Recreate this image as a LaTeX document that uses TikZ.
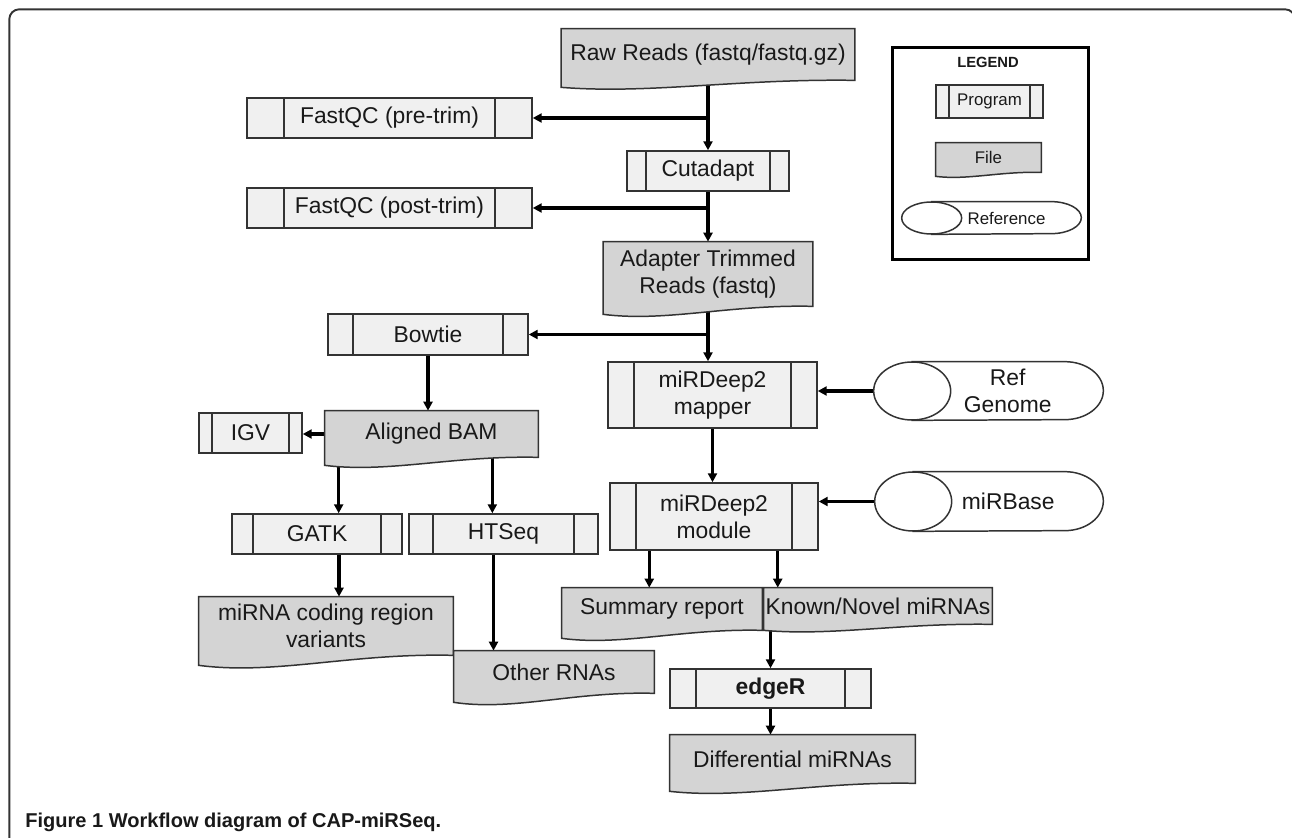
\documentclass[tikz,border=0pt]{standalone}
\usepackage{fontspec}
\setmainfont{Liberation Sans}
\usetikzlibrary{positioning}
\usetikzlibrary{arrows.meta}
\usetikzlibrary{calc}
\pgfdeclarelayer{lines}
\pgfdeclarelayer{shapes}
\pgfsetlayers{lines,shapes,main}
\definecolor{progfill}{gray}{0.94}
\definecolor{filefill}{gray}{0.83}
\definecolor{edgegray}{gray}{0.2}
\tikzset{%
    prog/.style={rectangle, draw=edgegray, line width=0.85pt, fill=progfill, inner sep=0pt, align=center,
        path picture={\draw[edgegray, line width=0.85pt]
            ([xshift=#1]path picture bounding box.north west) -- ([xshift=#1]path picture bounding box.south west)
            ([xshift=-#1]path picture bounding box.north east) -- ([xshift=-#1]path picture bounding box.south east);}},
    datafile/.style={rectangle, inner sep=0pt, align=center},
    refdata/.style={rectangle, inner sep=0pt, align=center},
    fileshape/.style={draw=edgegray, line width=0.85pt, fill=filefill},
    refshape/.style={draw=edgegray, line width=0.85pt, fill=white},
    flow/.style={draw, line width=2pt, -{Triangle[length=0.18cm, width=0.18cm]}}
}

\begin{document}
\begin{tikzpicture}[x=0.02cm, y=-0.02cm]
		\tikzstyle{every node}=[font=\fontsize{13}{15.4}\selectfont, text=black!90]
		\useasboundingbox (0,0) rectangle (1292,838);

		% outer frame
		\draw[edgegray, line width=1.1pt, rounded corners=0.2cm] (9.3,870) -- (9.3,9.3) -- (1295,9.3) -- (1295,870);

		% main trunk
		\node[datafile, minimum width=5.86cm, minimum height=1.02cm]    (raw)      at (708,54.5)    {Raw Reads (fastq/fastq.gz)};
		\node[prog=0.74cm, minimum width=5.7cm, minimum height=0.8cm]   (fqcpre)   at (389.5,118)   {FastQC (pre-trim)};
		\node[prog=0.38cm, minimum width=3.24cm, minimum height=0.8cm]  (cutadapt) at (708,171)     {Cutadapt};
		\node[prog=0.74cm, minimum width=5.7cm, minimum height=0.8cm]   (fqcpost)  at (389.5,208)   {FastQC (post-trim)};
		\node[datafile, minimum width=4.18cm, minimum height=1.28cm]    (trimmed)  at (708,274)     {Adapter Trimmed\\Reads (fastq)};
		\node[prog=0.5cm, minimum width=4cm, minimum height=0.82cm]     (bowtie)   at (428,334.5)   {Bowtie};
		\node[prog=0.52cm, minimum width=4.18cm, minimum height=1.32cm] (mapper)   at (712.5,395)   {miRDeep2\\mapper};
		\node[refdata, minimum width=3.81cm, minimum height=1.16cm]     (refgen)   at (1007.75,391) {Ref\\Genome};
		\node[prog=0.52cm, minimum width=4.16cm, minimum height=1.34cm] (module)   at (714,516.5)   {miRDeep2\\module};
		\node[refdata, minimum width=3.79cm, minimum height=1.18cm]     (mirbase)  at (1008.25,501.5) {miRBase};

		% alignment branch
		\node[datafile, minimum width=4.26cm, minimum height=0.92cm]    (bam)      at (431.5,434)   {Aligned BAM};
		\node[prog=0.26cm, minimum width=2.06cm, minimum height=0.8cm]  (igv)      at (250.5,433)   {IGV};
		\node[prog=0.42cm, minimum width=3.4cm, minimum height=0.8cm]   (gatk)     at (317,534)     {GATK};
		\node[prog=0.48cm, minimum width=3.78cm, minimum height=0.8cm]  (htseq)    at (503.5,534)   {HTSeq};
		\node[datafile, minimum width=5.08cm, minimum height=1.16cm]    (variants) at (326,626)     {miRNA coding region\\variants};
		\node[datafile, minimum width=4cm, minimum height=0.84cm]       (others)   at (554,672)     {Other RNAs};

		% outputs
		\node[datafile, minimum width=4cm, minimum height=0.84cm]       (summary)  at (662,609)     {Summary report};
		\node[datafile, minimum width=4.56cm, minimum height=0.72cm]    (known)    at (878,606)     {Known/Novel miRNAs};
		\node[prog=0.52cm, minimum width=4.02cm, minimum height=0.78cm] (edger)    at (770.5,688.5) {\textbf{edgeR}};
		\node[datafile, minimum width=4.9cm, minimum height=0.96cm]     (diffmir)  at (792.5,759)   {Differential miRNAs};

		% legend
		\node[draw=black, line width=1.7pt, minimum width=3.94cm, minimum height=4.26cm] (legend) at (990.5,153.5) {};
		\node[font=\fontsize{8.4}{10}\selectfont\bfseries]                                (legtitle) at (988,62) {LEGEND};
		\node[prog=0.26cm, minimum width=2.14cm, minimum height=0.66cm, font=\fontsize{9.6}{11}\selectfont] (legprog) at (989.5,101.5) {Program};
		\node[datafile, minimum width=2.1cm, minimum height=0.58cm, font=\fontsize{9.6}{11}\selectfont]     (legfile) at (988.5,157.5) {File};
		\node[refdata, minimum width=2.98cm, minimum height=0.64cm, font=\fontsize{9.6}{11}\selectfont]     (legref)  at (1006.5,218)  {Reference};

		\node[anchor=west, inner sep=0pt, font=\fontsize{11.4}{13}\selectfont\bfseries] (caption) at (25,822) {Figure 1 Workflow diagram of CAP-miRSeq.};

		% file and reference outlines
		\begin{pgfonlayer}{shapes}
			\foreach \n/\d in {raw/7, trimmed/8, bam/8, variants/10, others/9, summary/8, known/6, diffmir/8, legfile/4}
				\draw[fileshape] (\n.south east) -- (\n.north east) -- (\n.north west) -- ($(\n.south west)+(0,\d)$)
					.. controls ($(\n.south west)!0.3!(\n.south east)+(0,2*\d)$) and ($(\n.south west)!0.6!(\n.south east)+(0,-0.25*\d)$) .. (\n.south east) -- cycle;
			\foreach \n/\r/\s in {refgen/0.77cm/0.58cm, mirbase/0.77cm/0.59cm, legref/0.6cm/0.32cm}{
				\draw[refshape] (\n.north west) -- ([xshift=-\r]\n.north east)
					arc[start angle=90, end angle=-90, x radius=\r, y radius=\s] -- (\n.south west) -- cycle;
				\draw[refshape] (\n.west) ellipse [x radius=\r, y radius=\s];
			}
		\end{pgfonlayer}

		% connectors
		\begin{pgfonlayer}{lines}
			\draw[flow] (raw.south) -- (raw.south |- cutadapt.north);
			\draw[flow] (raw.south |- fqcpre.east) -- (fqcpre.east);
			\draw[flow] (cutadapt.south) -- (cutadapt.south |- trimmed.north);
			\draw[flow] (cutadapt.south |- fqcpost.east) -- (fqcpost.east);
			\draw[flow] (trimmed.south) -- (trimmed.south |- mapper.north);
			\draw[flow] (trimmed.south |- bowtie.east) -- (bowtie.east);
			\draw[flow] (refgen.west) -- (mapper.east |- refgen.west);
			\draw[flow] (mapper.south) -- (mapper.south |- module.north);
			\draw[flow] (mirbase.west) -- (module.east |- mirbase.west);
			\draw[flow] (bowtie.south) -- (bowtie.south |- bam.north);
			\draw[flow] (bam.west) -- (igv.east |- bam.west);
			\draw[flow] ([xshift=0.28cm]bam.south west) -- ([xshift=0.28cm]bam.south west |- gatk.north);
			\draw[flow] ([xshift=-0.92cm]bam.south east) -- ([xshift=-0.92cm]bam.south east |- htseq.north);
			\draw[flow] ([xshift=0.44cm]gatk.south) -- ([xshift=0.44cm]gatk.south |- variants.north);
			\draw[flow] ([xshift=-0.2cm]htseq.south) -- ([xshift=-0.2cm]htseq.south |- others.north);
			\draw[flow] ([xshift=0.8cm]module.south west) -- ([xshift=0.8cm]module.south west |- summary.north);
			\draw[flow] ([xshift=-0.82cm]module.south east) -- ([xshift=-0.82cm]module.south east |- known.north);
			\draw[flow] (edger.north |- known.south) -- (edger.north);
			\draw[flow] (edger.south) -- (edger.south |- diffmir.north);
		\end{pgfonlayer}
	\end{tikzpicture}
\end{document}
